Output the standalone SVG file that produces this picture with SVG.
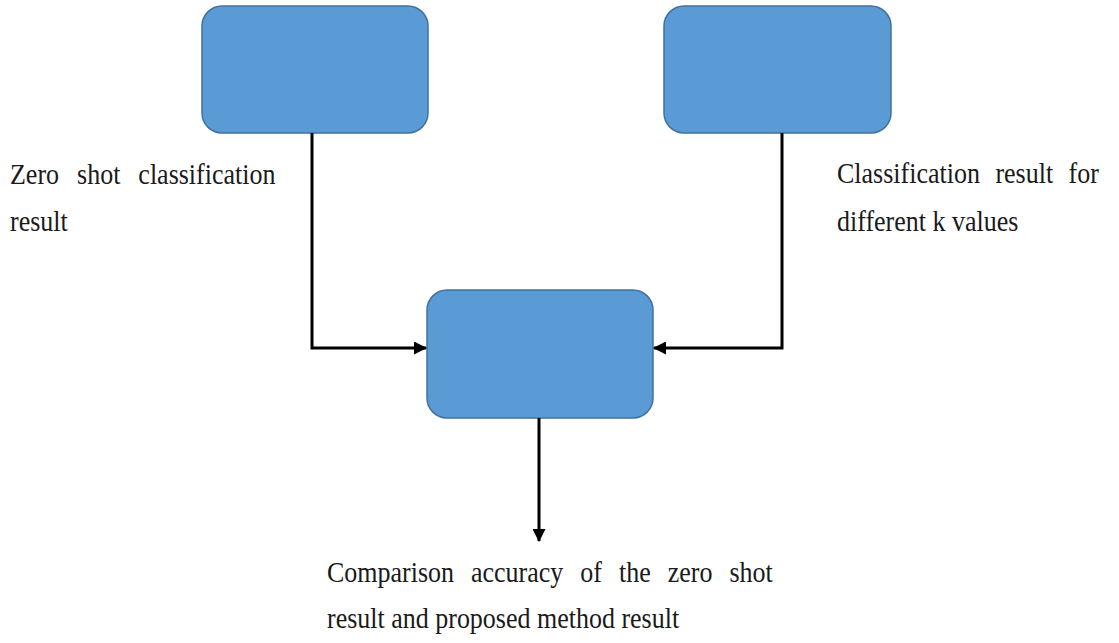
<svg xmlns="http://www.w3.org/2000/svg" width="1119" height="643" viewBox="0 0 1119 643">
<style>
.box{fill:#5b9bd5;stroke:#41719c;stroke-width:1.5}
.conn{fill:none;stroke:#000;stroke-width:3}
.lbl{font-family:"Liberation Serif","Times New Roman",serif;font-size:26px;fill:#1a1a1a}
</style>
<defs>
<marker id="arr" markerWidth="13" markerHeight="13" refX="12" refY="6.5" orient="auto" markerUnits="userSpaceOnUse" viewBox="0 0 13 13">
<path d="M0,0 L13,6.5 L0,13 z" fill="#000"/>
</marker>
</defs>
<rect width="1119" height="643" fill="#fff"/>
<g id="node-zero-shot"><rect class="box" x="202" y="6" width="226" height="127" rx="20"/></g>
<g id="node-k-values"><rect class="box" x="664" y="6" width="227" height="127" rx="20"/></g>
<g id="node-compare"><rect class="box" x="427" y="290" width="226" height="128" rx="20"/></g>
<g id="connectors">
<path class="conn" d="M312,133 V348 H426" marker-end="url(#arr)"/>
<path class="conn" d="M782,133 V348 H654" marker-end="url(#arr)"/>
<path class="conn" d="M539,418 V541" marker-end="url(#arr)"/>
</g>
<g id="labels">
<text class="lbl" transform="translate(10,184) scale(1,1.15)" word-spacing="11.5">Zero shot classification</text>
<text class="lbl" transform="translate(10,231) scale(1,1.15)">result</text>
<text class="lbl" transform="translate(837,183) scale(1,1.15)" word-spacing="9">Classification result for</text>
<text class="lbl" transform="translate(837,231) scale(1,1.15)">different k values</text>
<text class="lbl" transform="translate(327,582) scale(1,1.15)" word-spacing="10.5">Comparison accuracy of the zero shot</text>
<text class="lbl" transform="translate(327,628) scale(1,1.15)">result and proposed method result</text>
</g>
</svg>
